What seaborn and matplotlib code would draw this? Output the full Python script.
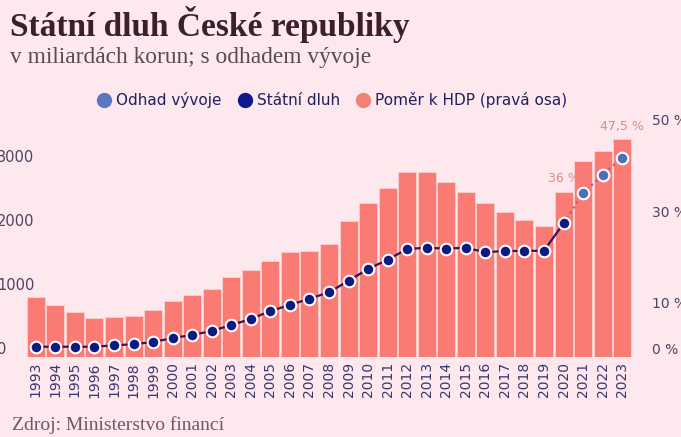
import numpy as np
import matplotlib
matplotlib.use("Agg")
import matplotlib.pyplot as plt
from matplotlib.lines import Line2D
import seaborn as sns

# --- data ---
years = [str(y) for y in range(1993, 2024)]
# state debt, bn CZK (left axis)
debt = [160, 160, 160, 160, 183, 198, 234, 296, 343, 406, 499, 593, 718, 811, 910,
        1009, 1190, 1373, 1518, 1685, 1705, 1690, 1705, 1633, 1654, 1654, 1658,
        2086, 2559, 2844, 3109]
# debt / GDP, % (right axis)
ratio = [13.2, 11.4, 9.8, 8.5, 8.8, 9.0, 10.3, 12.3, 13.5, 14.8, 17.5, 19.1, 21.0,
         22.9, 23.1, 24.7, 29.6, 33.6, 36.8, 40.5, 40.5, 38.1, 36.1, 33.6, 31.7,
         29.9, 28.5, 36.0, 42.8, 45.0, 47.5]
first_estimate = "2021"
labelled = {"2020": "36 %", "2023": "47,5 %"}
left_ticks = [0, 1000, 2000, 3000]
right_ticks = [0, 10, 30, 50]
right_ticklabels = ["0 %", "10 %", "30 %", "50 %"]

BG = "#fce8ed"
BAR = "#f97b74"
NAVY = "#0d1b7e"
EST = "#4c6fb5"
TXT = "#4a4560"

sns.set_theme(style="white")
plt.rcParams["font.family"] = ["DejaVu Sans"]

fig = plt.figure(figsize=(6.81, 4.37), dpi=100, facecolor=BG)
ax = fig.add_axes([26 / 681, 80 / 437, 606 / 681, 240 / 437])
ax.set_facecolor(BG)

# bars: ratio to GDP
sns.barplot(x=years, y=ratio, ax=ax, color=BAR, saturation=1, width=0.92,
            edgecolor="#fbd3d3", linewidth=0.6)
ax.set_ylim(0, 52.4)
ax.set_xlim(-0.5, len(years) - 0.5)

for i, y in enumerate(years):
    if y in labelled:
        ax.text(i, ratio[i] + 1.5, labelled[y], ha="center", va="bottom",
                fontsize=9, color="#dd8a84")

# line: debt
ax2 = ax.twinx()
xs = np.arange(len(years))
k = years.index(first_estimate)
sns.lineplot(x=xs[:k], y=debt[:k], ax=ax2, color="#3a1450", lw=1.6)
sns.lineplot(x=xs[k - 1:], y=debt[k - 1:], ax=ax2, color="#b0608a", lw=1.6,
             linestyle=":")
sns.scatterplot(x=xs[:k], y=debt[:k], ax=ax2, color=NAVY, s=70,
                edgecolor="white", linewidth=1.5, zorder=5)
sns.scatterplot(x=xs[k:], y=debt[k:], ax=ax2, color=EST, s=70,
                edgecolor="white", linewidth=1.5, zorder=5)
ax2.set_ylim(0, 3744)
ax2.set_xlim(-0.5, len(years) - 0.5)

# axes cosmetics
ax.yaxis.tick_right()
ax2.yaxis.tick_left()
ax.set_yticks(right_ticks, labels=right_ticklabels)
ax2.set_yticks(left_ticks, labels=[str(t) for t in left_ticks])
ax.tick_params(axis="y", length=0, pad=14.4, labelsize=10, labelcolor=TXT)
ax2.tick_params(axis="y", length=0, pad=20.9, labelsize=10.5, labelcolor=TXT)
for lab in ax.get_yticklabels() + ax2.get_yticklabels():
    lab.set_va("bottom")
for lab in ax2.get_yticklabels():
    lab.set_ha("left")
ax.tick_params(axis="x", rotation=90, length=0, pad=3.6, labelsize=10,
               labelcolor="#3b3470")
ax.set_xlabel("")
ax.set_ylabel("")
ax2.set_ylabel("")
for a in (ax, ax2):
    for s in a.spines.values():
        s.set_visible(False)

# legend
handles = [
    Line2D([], [], ls="", marker="o", markersize=10, color="#5a78c0"),
    Line2D([], [], ls="", marker="o", markersize=10, color="#0c1a8c"),
    Line2D([], [], ls="", marker="o", markersize=10, color="#f5807a"),
]
fig.legend(handles, ["Odhad vývoje", "Státní dluh", "Poměr k HDP (pravá osa)"],
           loc="center", bbox_to_anchor=(332 / 681, 1 - 100 / 437), ncol=3,
           frameon=False, fontsize=11, labelcolor="#20205c",
           handletextpad=0.3, columnspacing=1.0, handlelength=1.0)

# titles
fig.text(10 / 681, 1 - 36 / 437, "Státní dluh České republiky",
         family="Liberation Serif", weight="bold", fontsize=24,
         color="#3d1f2a", va="baseline")
fig.text(10 / 681, 1 - 63 / 437, "v miliardách korun; s odhadem vývoje",
         family="Liberation Serif", fontsize=16.8, color="#5a4a55",
         va="baseline")
fig.text(12 / 681, 1 - 430 / 437, "Zdroj: Ministerstvo financí",
         family="Liberation Serif", fontsize=14, color="#6b5a60",
         va="baseline")

fig.savefig("out.png", dpi=100, facecolor=BG)
